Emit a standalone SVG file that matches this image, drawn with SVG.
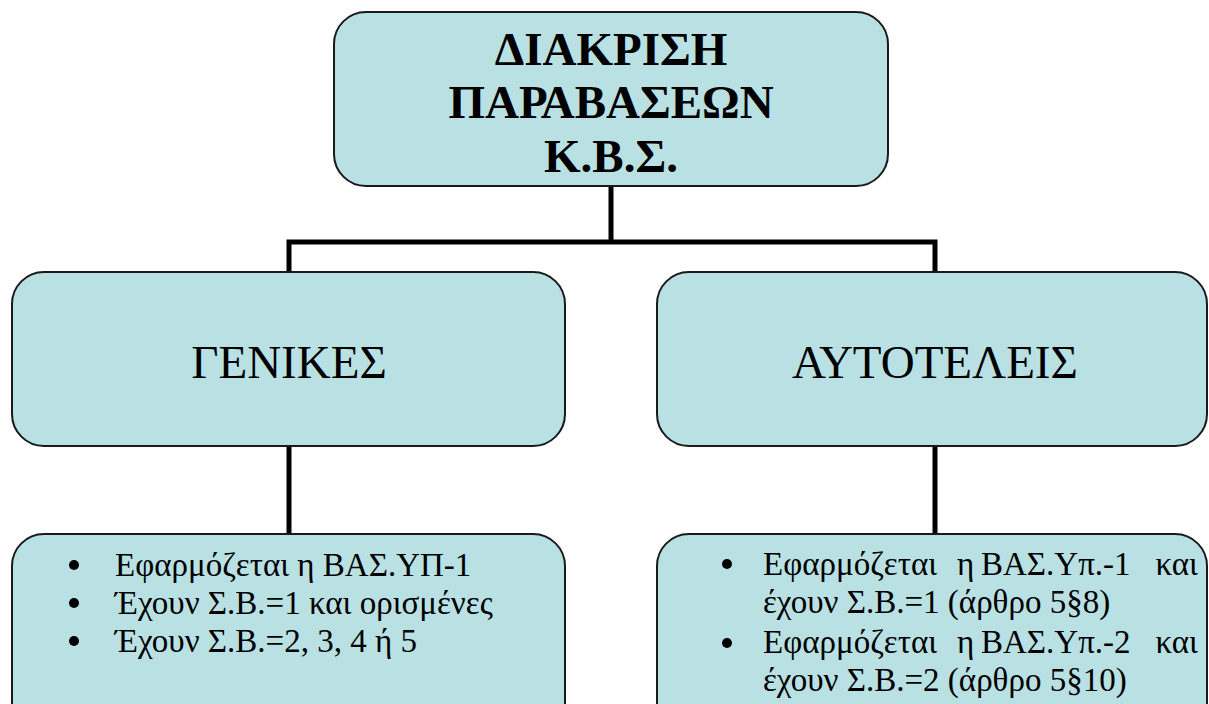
<svg xmlns="http://www.w3.org/2000/svg" width="1209" height="704" viewBox="0 0 1209 704">
<style>
.box{fill:#B9E0E3;stroke:#1a1a1a;stroke-width:2}
.conn{fill:none;stroke:#000;stroke-width:5}
text{font-family:"Liberation Serif","Times New Roman",serif;fill:#000}
.title{font-size:47px;font-weight:bold;text-anchor:middle}
.mid{font-size:47px;text-anchor:middle}
.item{font-size:33px}
</style>
<rect width="1209" height="704" fill="#fff"/>
<g id="connectors">
<path class="conn" d="M611,186 V242 M289,242 H935 M289,239.5 V272 M935,239.5 V272 M289,446 V534 M935,446 V534"/>
</g>
<g id="root">
<rect class="box" x="334" y="12" width="554" height="174" rx="32"/>
<text class="title" x="611" y="65">ΔΙΑΚΡΙΣΗ</text>
<text class="title" x="611" y="118">ΠΑΡΑΒΑΣΕΩΝ</text>
<text class="title" x="611" y="172">Κ.Β.Σ.</text>
</g>
<g id="genikes">
<rect class="box" x="12" y="272" width="553" height="174" rx="32"/>
<text class="mid" x="289" y="378">ΓΕΝΙΚΕΣ</text>
</g>
<g id="autoteleis">
<rect class="box" x="657" y="272" width="550" height="174" rx="32"/>
<text class="mid" x="935" y="378">ΑΥΤΟΤΕΛΕΙΣ</text>
</g>
<g id="genikes-details">
<rect class="box" x="12" y="534" width="553" height="200" rx="32"/>
<circle cx="74" cy="565" r="5"/>
<circle cx="74" cy="603" r="5"/>
<circle cx="74" cy="641" r="5"/>
<text class="item" x="115" y="576">Εφαρμόζεται η ΒΑΣ.ΥΠ-1</text>
<text class="item" x="115" y="614">Έχουν Σ.Β.=1 και ορισμένες</text>
<text class="item" x="115" y="652">Έχουν Σ.Β.=2, 3, 4 ή 5</text>
</g>
<g id="autoteleis-details">
<rect class="box" x="657" y="534" width="550" height="200" rx="32"/>
<circle cx="727" cy="564" r="5"/>
<circle cx="727" cy="643" r="5"/>
<text class="item" x="763" y="575">Εφαρμόζεται</text>
<text class="item" x="957" y="575">η</text>
<text class="item" x="981" y="575">ΒΑΣ.Υπ.-1</text>
<text class="item" x="1198" y="575" text-anchor="end">και</text>
<text class="item" x="763" y="613">έχουν Σ.Β.=1 (άρθρο 5§8)</text>
<text class="item" x="763" y="653">Εφαρμόζεται</text>
<text class="item" x="957" y="653">η</text>
<text class="item" x="981" y="653">ΒΑΣ.Υπ.-2</text>
<text class="item" x="1198" y="653" text-anchor="end">και</text>
<text class="item" x="763" y="691">έχουν Σ.Β.=2 (άρθρο 5§10)</text>
</g>
</svg>
